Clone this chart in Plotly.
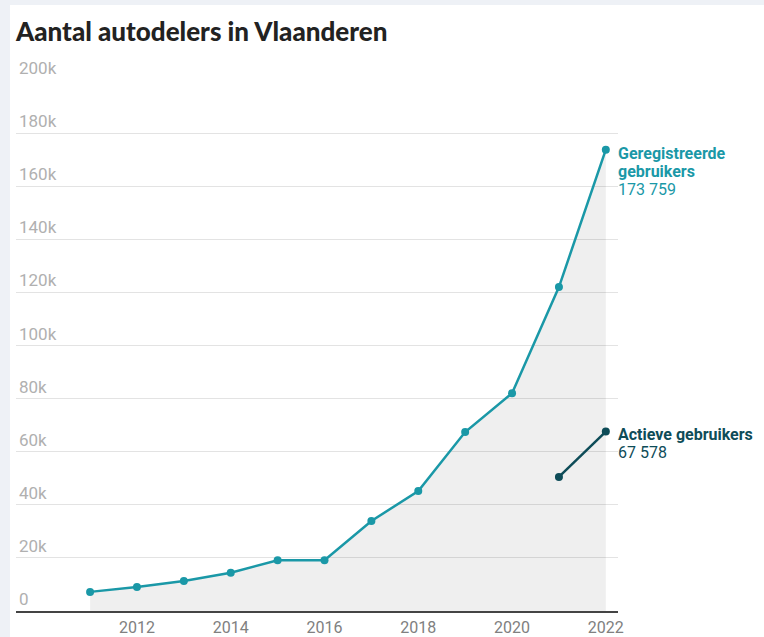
import plotly.graph_objects as go

years = [2011, 2012, 2013, 2014, 2015, 2016, 2017, 2018, 2019, 2020, 2021, 2022]
registered = [7200, 9000, 11300, 14400, 19100, 19100, 33900, 45200, 67400, 82000, 122000, 173759]
active_years = [2021, 2022]
active = [50500, 67578]

y_tick_vals = [0, 20000, 40000, 60000, 80000, 100000, 120000, 140000, 160000, 180000, 200000]
y_tick_text = ["0", "20k", "40k", "60k", "80k", "100k", "120k", "140k", "160k", "180k", "200k"]
x_tick_vals = [2012, 2014, 2016, 2018, 2020, 2022]

reg_label = ["<b>Geregistreerde</b>", "<b>gebruikers</b>", "173 759"]
act_label = ["<b>Actieve gebruikers</b>", "67 578"]

TEAL = "#1a98a7"
DARK = "#0e4c58"

fig = go.Figure()
fig.add_trace(go.Scatter(
    x=years, y=registered, mode="lines+markers",
    line=dict(color=TEAL, width=2.5), marker=dict(size=8, color=TEAL),
    fill="tozeroy", fillcolor="rgba(0,0,0,0.063)", hoverinfo="skip", showlegend=False,
))
fig.add_trace(go.Scatter(
    x=active_years, y=active, mode="lines+markers",
    line=dict(color=DARK, width=2.5), marker=dict(size=8, color=DARK),
    hoverinfo="skip", showlegend=False,
))

for i, line in enumerate(reg_label):
    fig.add_annotation(
        x=years[-1], y=registered[-1], xref="x", yref="y", text=line,
        showarrow=False, xanchor="left", yanchor="middle", align="left",
        xshift=10, yshift=-4 - 18 * i,
        font=dict(family="Roboto", size=16, color=TEAL),
    )
for i, line in enumerate(act_label):
    fig.add_annotation(
        x=active_years[-1], y=active[-1], xref="x", yref="y", text=line,
        showarrow=False, xanchor="left", yanchor="middle", align="left",
        xshift=10, yshift=-3 - 18 * i,
        font=dict(family="Roboto", size=16, color=DARK),
    )

# white card on page background
fig.add_shape(type="rect", xref="paper", yref="paper",
              x0=-0.01, x1=1.5, y0=-0.2, y1=1.139,
              fillcolor="white", line=dict(width=0), layer="below")

fig.update_layout(
    width=764, height=637,
    margin=dict(l=16, r=146, t=79, b=26, autoexpand=False),
    paper_bgcolor="#eef1f6",
    plot_bgcolor="rgba(0,0,0,0)",
    title=dict(text="Aantal autodelers in Vlaanderen",
               x=16 / 764, xanchor="left", xref="container",
               y=1 - 23 / 637, yanchor="top", yref="container",
               automargin=False,
               font=dict(family="Lato", size=26, weight=900, color="#222222")),
    xaxis=dict(range=[2009.42, 2022.26], tickvals=x_tick_vals,
               automargin=False,
               showgrid=False, zeroline=False,
               showline=True, linecolor="#444444", linewidth=1.5,
               ticks="", ticklabelstandoff=1,
               tickfont=dict(family="Roboto", size=16, color="#808080")),
    yaxis=dict(range=[0, 200377], tickvals=y_tick_vals, ticktext=y_tick_text,
               automargin=False,
               ticklabelposition="inside top", ticklabeloverflow="allow",
               showgrid=True, gridcolor="#e3e3e3", gridwidth=1,
               zeroline=False, showline=False, ticks="",
               tickfont=dict(family="Roboto", size=17, color="#b0b0b0")),
)

fig.write_html("out.html",
               config={"displayModeBar": False},
               post_script="document.body.style.margin='0';document.body.style.overflow='hidden';")
